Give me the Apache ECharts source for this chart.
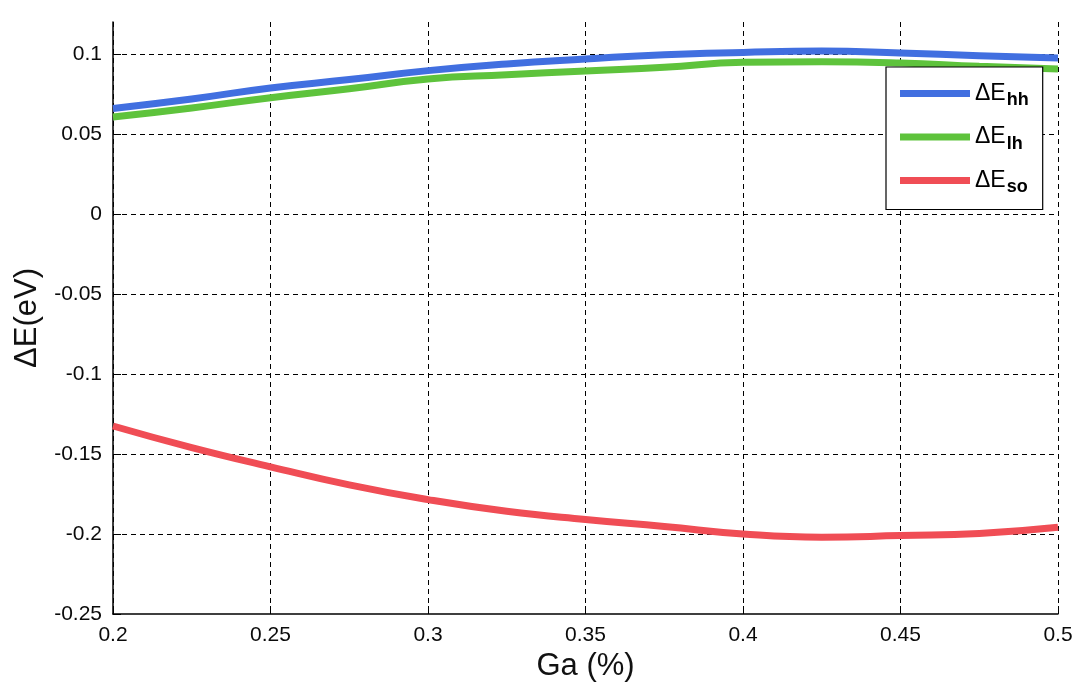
<!DOCTYPE html>
<html>
<head>
<meta charset="utf-8">
<script src="https://cdn.jsdelivr.net/npm/echarts@6/dist/echarts.min.js"></script>
<style>
  html, body { margin: 0; padding: 0; background: #fff; }
  #chart { width: 1085px; height: 687px; }
</style>
</head>
<body>
<div id="chart"></div>
<script>
// Ga fraction (x) and band offsets in eV
const gaFraction = [0.2, 0.225, 0.25, 0.275, 0.3, 0.325, 0.35, 0.375, 0.4, 0.425, 0.45, 0.475, 0.5];
const dEhh = [0.066, 0.0719, 0.0788, 0.084, 0.0896, 0.0938, 0.0969, 0.0996, 0.101, 0.1018, 0.1006, 0.0989, 0.0975];
const dElh = [0.0606, 0.0663, 0.0727, 0.0783, 0.0844, 0.087, 0.0894, 0.0917, 0.0948, 0.0952, 0.0944, 0.0923, 0.0906];
const dEso = [-0.1325, -0.146, -0.158, -0.1693, -0.1785, -0.1858, -0.191, -0.1953, -0.2, -0.202, -0.201, -0.1997, -0.1958];

const seriesNames = ['hh', 'lh', 'so'];
const seriesColors = ['#416fe0', '#5ec33c', '#f04d55'];
const yTicks = [-0.25, -0.2, -0.15, -0.1, -0.05, 0, 0.05, 0.1];
const yGridValues = [-0.2, -0.15, -0.1, -0.05, 0, 0.05, 0.1];

const pairs = (ys) => gaFraction.map((x, i) => [x, ys[i]]);
const seriesData = [dEhh, dElh, dEso];

const font = 'Liberation Sans, Arial, Helvetica, sans-serif';
const dash = { color: '#000', width: 1, type: [5, 4] };

const chart = echarts.init(document.getElementById('chart'));
chart.setOption({
  animation: false,
  backgroundColor: '#fff',
  grid: { left: 113, right: 27, top: 22, bottom: 73 },
  xAxis: {
    type: 'value',
    min: 0.2, max: 0.5, interval: 0.05,
    name: 'Ga (%)', nameLocation: 'middle', nameGap: 36,
    nameTextStyle: { fontFamily: font, fontSize: 31, color: '#111' },
    axisLine: { onZero: false, lineStyle: { color: '#000', width: 1.5 } },
    axisTick: { inside: true, length: 8, lineStyle: { color: '#000' } },
    axisLabel: { fontFamily: font, fontSize: 21, color: '#0a0a0a', margin: 11 },
    splitLine: { show: true, lineStyle: dash }
  },
  yAxis: {
    type: 'value',
    min: -0.25, max: 0.12,
    name: 'ΔE(eV)', nameLocation: 'middle', nameGap: 70,
    nameTextStyle: { fontFamily: font, fontSize: 31, color: '#111' },
    axisLine: { onZero: false, lineStyle: { color: '#000', width: 1.5 } },
    axisTick: { inside: true, length: 8, customValues: yTicks, lineStyle: { color: '#000' } },
    axisLabel: { fontFamily: font, fontSize: 21, color: '#0a0a0a', margin: 11, customValues: yTicks },
    splitLine: { show: false }
  },
  legend: {
    left: 886, top: 67,
    orient: 'vertical',
    backgroundColor: '#fff',
    borderColor: '#000', borderWidth: 1.2, borderRadius: 0,
    padding: [15, 14, 13, 14],
    itemGap: 16,
    itemWidth: 70, itemHeight: 7,
    icon: 'rect',
    data: seriesNames,
    formatter: (n) => '{a|ΔE}{b|' + n + '}',
    textStyle: {
      fontFamily: font, color: '#000',
      rich: {
        a: { fontSize: 23, fontFamily: font, color: '#000' },
        b: { fontSize: 18, fontFamily: font, fontWeight: 'bold', color: '#000', padding: [14, 0, 0, 1] }
      }
    }
  },
  series: seriesNames.map((name, i) => ({
    name: name,
    type: 'line',
    data: pairs(seriesData[i]),
    smooth: true,
    showSymbol: false,
    color: seriesColors[i],
    lineStyle: { width: 7, color: seriesColors[i] },
    z: 3,
    markLine: i === 0 ? {
      silent: true, symbol: 'none', label: { show: false },
      lineStyle: dash, z: 1,
      data: yGridValues.map((v) => ({ yAxis: v }))
    } : undefined
  }))
});
</script>
</body>
</html>
